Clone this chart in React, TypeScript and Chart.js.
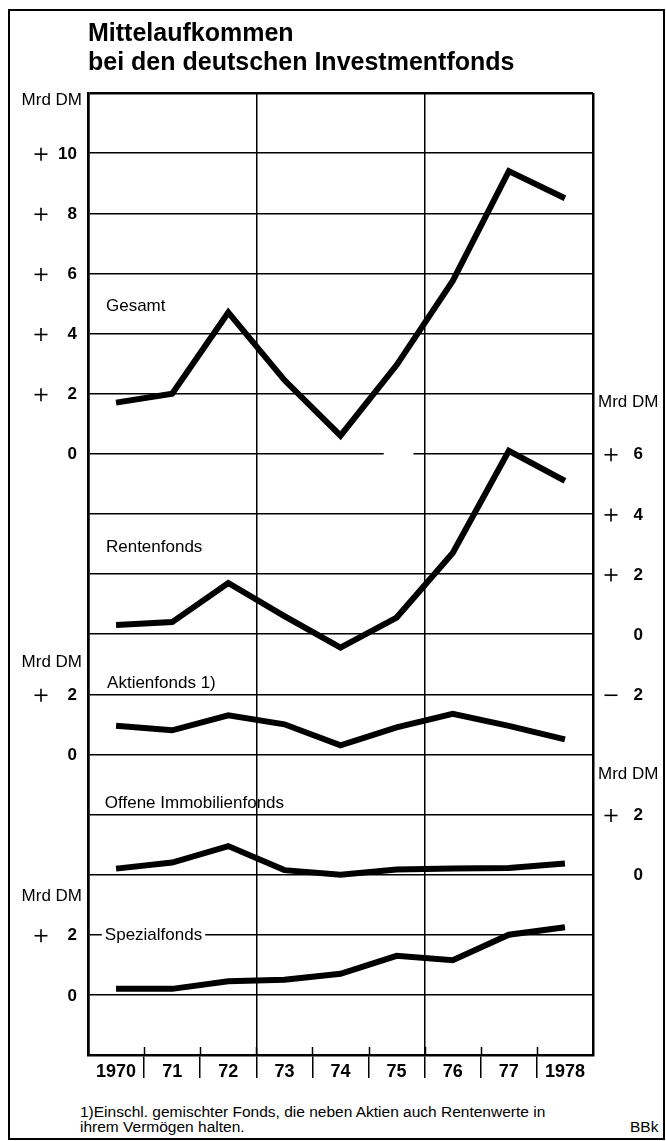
import React, { useEffect, useRef } from "react";
import { Chart, registerables } from "chart.js";

Chart.register(...registerables);

// ---------- data ----------
const years = [1970, 1971, 1972, 1973, 1974, 1975, 1976, 1977, 1978];
const yearLabels = ["1970", "71", "72", "73", "74", "75", "76", "77", "1978"];

const gesamt = [1.7, 2.0, 4.7, 2.45, 0.6, 2.95, 5.75, 9.4, 8.5];
const renten = [0.3, 0.4, 1.7, 0.6, -0.45, 0.55, 2.7, 6.1, 5.1];
const aktien = [0.95, 0.8, 1.3, 1.0, 0.3, 0.9, 1.35, 0.95, 0.5];
const immobilien = [0.2, 0.4, 0.95, 0.15, 0.0, 0.17, 0.2, 0.22, 0.37];
const spezial = [0.2, 0.2, 0.45, 0.5, 0.7, 1.3, 1.15, 2.0, 2.25];

const gesamtTicks = [0, 2, 4, 6, 8, 10];
const rentenTicks = [-2, 0, 2, 4, 6];
const aktienTicks = [0, 2];
const immobilienTicks = [0, 2];
const spezialTicks = [0, 2];

const seriesNames = ["Gesamt", "Rentenfonds", "Aktienfonds 1)", "Offene Immobilienfonds", "Spezialfonds"];
const unitLabel = "Mrd DM";
const titleLines = ["Mittelaufkommen", "bei den deutschen Investmentfonds"];
const footnoteLines = [
  "1)Einschl. gemischter Fonds, die neben Aktien auch Rentenwerte in",
  "ihrem Vermögen halten.",
];
const sourceLabel = "BBk";

// ---------- layout / style ----------
const FONT = "'Liberation Sans', Arial, Helvetica, sans-serif";

const tickSets = [
  { axis: "yGesamt", values: gesamtTicks, side: "left" },
  { axis: "yRenten", values: rentenTicks, side: "right" },
  { axis: "yAktien", values: aktienTicks, side: "left" },
  { axis: "yImmo", values: immobilienTicks, side: "right" },
  { axis: "ySpezial", values: spezialTicks, side: "left" },
];
const unitSets = [
  { axis: "yGesamt", value: 11.77, side: "left" },
  { axis: "yRenten", value: 7.7, side: "right" },
  { axis: "yAktien", value: 3.07, side: "left" },
  { axis: "yImmo", value: 3.33, side: "right" },
  { axis: "ySpezial", value: 3.27, side: "left" },
];
const nameSets = [
  { axis: "yGesamt", x: 1969.82, value: 4.95, knockout: false },
  { axis: "yRenten", x: 1969.82, value: 2.93, knockout: false },
  { axis: "yAktien", x: 1969.84, value: 2.4, knockout: false },
  { axis: "yImmo", x: 1969.8, value: 2.4, knockout: false },
  { axis: "ySpezial", x: 1969.8, value: 2.0, knockout: true },
];

const labelPlugin = {
  id: "panelLabels",
  beforeDatasetsDraw(chart: any) {
    const { ctx, chartArea, scales } = chart;
    const x = scales.x;
    ctx.save();
    // small break in the Gesamt zero line
    const y0 = scales.yGesamt.getPixelForValue(0);
    const gx1 = x.getPixelForValue(1974.77);
    const gx2 = x.getPixelForValue(1975.3);
    ctx.fillStyle = "#fff";
    ctx.fillRect(gx1, y0 - 2, gx2 - gx1, 4);
    // year separators reaching a little into the plot
    ctx.strokeStyle = "#000";
    ctx.lineWidth = 1.5;
    years.slice(0, -1).forEach((yr) => {
      const px = Math.round(x.getPixelForValue(yr + 0.5)) + 0.5;
      ctx.beginPath();
      ctx.moveTo(px, chartArea.bottom - 8);
      ctx.lineTo(px, chartArea.bottom);
      ctx.stroke();
    });
    ctx.restore();
  },
  afterDraw(chart: any) {
    const { ctx, chartArea, scales } = chart;
    const x = scales.x;
    ctx.save();
    ctx.fillStyle = "#000";
    ctx.strokeStyle = "#000";
    // numeric tick labels with separate sign
    tickSets.forEach((set) => {
      const sc = scales[set.axis];
      set.values.forEach((v) => {
        const py = sc.getPixelForValue(v) + 1;
        const signX = set.side === "left" ? chartArea.left - 47 : chartArea.right + 18;
        const numRight = set.side === "left" ? chartArea.left - 11 : chartArea.right + 50;
        ctx.lineWidth = 1.6;
        if (v !== 0) {
          ctx.beginPath();
          ctx.moveTo(signX - 6.5, py);
          ctx.lineTo(signX + 6.5, py);
          ctx.stroke();
          if (v > 0) {
            ctx.beginPath();
            ctx.moveTo(signX, py - 6.5);
            ctx.lineTo(signX, py + 6.5);
            ctx.stroke();
          }
        }
        ctx.font = `bold 17px ${FONT}`;
        ctx.textAlign = "right";
        ctx.textBaseline = "middle";
        ctx.fillText(String(Math.abs(v)), numRight, py);
      });
    });
    // unit labels
    ctx.font = `17px ${FONT}`;
    ctx.textBaseline = "middle";
    unitSets.forEach((u) => {
      const py = scales[u.axis].getPixelForValue(u.value);
      if (u.side === "left") {
        ctx.textAlign = "right";
        ctx.fillText(unitLabel, chartArea.left - 6, py);
      } else {
        ctx.textAlign = "left";
        ctx.fillText(unitLabel, chartArea.right + 5, py);
      }
    });
    // series names
    ctx.textAlign = "left";
    nameSets.forEach((n, i) => {
      const px = x.getPixelForValue(n.x);
      const py = scales[n.axis].getPixelForValue(n.value) + 1;
      const w = ctx.measureText(seriesNames[i]).width;
      if (n.knockout) {
        ctx.fillStyle = "#fff";
        ctx.fillRect(px - 3, py - 8, w + 6, 16);
        ctx.fillStyle = "#000";
      }
      ctx.fillText(seriesNames[i], px, py);
    });
    ctx.restore();
  },
};

export default function App() {
  const ref = useRef<HTMLCanvasElement>(null);

  useEffect(() => {
    const canvas = ref.current;
    if (!canvas) return;
    const pts = (arr: number[]) => years.map((yr, i) => ({ x: yr, y: arr[i] }));
    const line = (label: string, arr: number[], axis: string) => ({
      label,
      data: pts(arr),
      yAxisID: axis,
      borderColor: "#000",
      backgroundColor: "#000",
      borderWidth: 6,
      pointRadius: 0,
      tension: 0,
      borderJoinStyle: "miter",
      borderCapStyle: "butt",
      fill: false,
      clip: false,
    });
    const hidden = (min: number, max: number) => ({ type: "linear", display: false, min, max });
    const isFrame = (v: number) => v === 1969.5 || v === 1978.5;
    const isBigGrid = (v: number) => v === 1972.5 || v === 1975.5;

    const chart = new Chart(canvas, {
      type: "line",
      data: {
        datasets: [
          line(seriesNames[0], gesamt, "yGesamt"),
          line(seriesNames[1], renten, "yRenten"),
          line(seriesNames[2], aktien, "yAktien"),
          line(seriesNames[3], immobilien, "yImmo"),
          line(seriesNames[4], spezial, "ySpezial"),
        ],
      },
      options: {
        animation: false,
        responsive: false,
        devicePixelRatio: 1,
        events: [],
        layout: { padding: { top: 93, right: 73, left: 0, bottom: 0 } },
        plugins: { legend: { display: false }, tooltip: { enabled: false }, title: { display: false } },
        scales: {
          x: {
            type: "linear",
            position: "bottom",
            min: 1969.5,
            max: 1978.5,
            afterBuildTicks: (s: any) => {
              const t: any[] = [];
              for (let v = 1969.5; v <= 1978.5; v += 0.5) t.push({ value: v });
              s.ticks = t;
            },
            afterFit: (s: any) => {
              s.height = 45;
            },
            ticks: {
              autoSkip: false,
              maxRotation: 0,
              minRotation: 0,
              padding: -17,
              color: "#000",
              font: { family: FONT, size: 18, weight: "bold" },
              callback: (v: any) => (Number.isInteger(v) ? yearLabels[v - 1970] : ""),
            },
            grid: {
              color: (c: any) => {
                const v = c.tick ? c.tick.value : 0;
                return isFrame(v) || isBigGrid(v) ? "#000" : "rgba(0,0,0,0)";
              },
              lineWidth: (c: any) => {
                const v = c.tick ? c.tick.value : 0;
                return isFrame(v) ? 2.5 : 1.5;
              },
              tickColor: (c: any) => {
                const v = c.tick ? c.tick.value : 0;
                return !Number.isInteger(v) && !isFrame(v) ? "#000" : "rgba(0,0,0,0)";
              },
              tickLength: 23,
              tickWidth: 1.5,
              drawTicks: true,
            },
            border: { display: true, color: "#000", width: 2.5 },
          },
          yGrid: {
            type: "linear",
            position: "left",
            min: 0,
            max: 16,
            ticks: { display: false, stepSize: 1 },
            grid: {
              color: "#000",
              lineWidth: (c: any) => (c.tick && c.tick.value === 16 ? 2.5 : 1.5),
              drawTicks: false,
            },
            border: { display: true, color: "#000", width: 2.5 },
            afterFit: (s: any) => {
              s.width = 88;
            },
          },
          yGesamt: hidden(-20, 12),
          yRenten: hidden(-14, 18),
          yAktien: hidden(-10, 22),
          yImmo: hidden(-6, 26),
          ySpezial: hidden(-2, 30),
        },
      } as any,
      plugins: [labelPlugin as any],
    } as any);
    return () => chart.destroy();
  }, []);

  const text = (extra: React.CSSProperties): React.CSSProperties => ({
    position: "absolute",
    fontFamily: FONT,
    color: "#000",
    whiteSpace: "nowrap",
    margin: 0,
    ...extra,
  });

  return (
    <div style={{ position: "absolute", left: 0, top: 0, width: 666, height: 1141, background: "#fff", overflow: "hidden" }}>
      <div
        style={{
          position: "absolute",
          left: 8,
          top: 9,
          width: 657,
          height: 1131,
          boxSizing: "border-box",
          border: "2px solid #000",
        }}
      />
      <canvas
        ref={ref}
        width={666}
        height={1100}
        style={{ position: "absolute", left: 0, top: 0, width: 666, height: 1100 }}
      />
      <div style={text({ left: 88, top: 20, fontSize: 25, fontWeight: "bold", lineHeight: "25px" })}>{titleLines[0]}</div>
      <div style={text({ left: 88, top: 49, fontSize: 25, fontWeight: "bold", lineHeight: "25px" })}>{titleLines[1]}</div>
      <div style={text({ left: 80, top: 1104, fontSize: 15.5, lineHeight: "15px" })}>{footnoteLines[0]}</div>
      <div style={text({ left: 80, top: 1119, fontSize: 15.5, lineHeight: "15px" })}>{footnoteLines[1]}</div>
      <div style={text({ left: 630, top: 1119, fontSize: 15.5, lineHeight: "15px" })}>{sourceLabel}</div>
    </div>
  );
}
